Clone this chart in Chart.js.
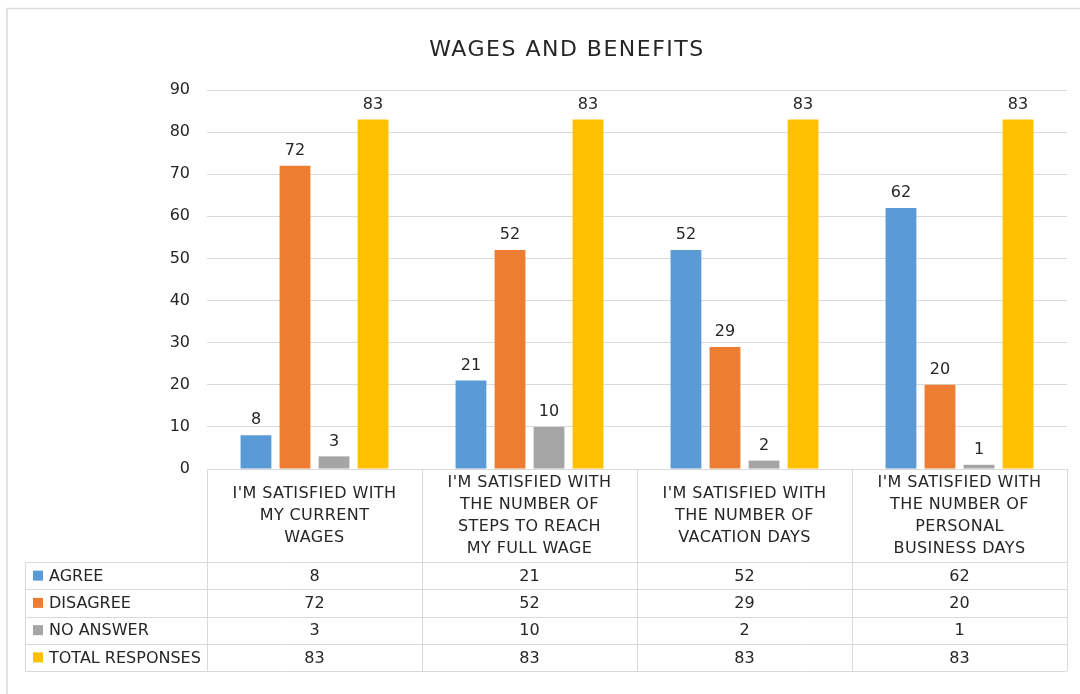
<!DOCTYPE html>
<html>
<head>
<meta charset="utf-8">
<script src="https://cdn.jsdelivr.net/npm/chart.js@4.4.1/dist/chart.umd.min.js"></script>
<style>
  html, body { margin: 0; padding: 0; background: #fff; }
  canvas { display: block; }
</style>
</head>
<body>
<canvas id="grafica" width="1080" height="694"></canvas>
<script>
const titulo = 'WAGES AND BENEFITS';
const categorias = [
  ["I'M SATISFIED WITH", 'MY CURRENT', 'WAGES'],
  ["I'M SATISFIED WITH", 'THE NUMBER OF', 'STEPS TO REACH', 'MY FULL WAGE'],
  ["I'M SATISFIED WITH", 'THE NUMBER OF', 'VACATION DAYS'],
  ["I'M SATISFIED WITH", 'THE NUMBER OF', 'PERSONAL', 'BUSINESS DAYS'],
];
const nombresSeries = ['AGREE', 'DISAGREE', 'NO ANSWER', 'TOTAL RESPONSES'];
const agree = [8, 21, 52, 62];
const disagree = [72, 52, 29, 20];
const noAnswer = [3, 10, 2, 1];
const totalResponses = [83, 83, 83, 83];
const colores = ['#5B9BD5', '#ED7D31', '#A5A5A5', '#FFC000'];
const ejeMin = 0;
const ejeMax = 90;
const ejePaso = 10;

const fuente = "'DejaVu Sans', 'Open Sans', sans-serif";
const gris = '#D9D9D9';
const texto = '#262626';

// tabla de datos al estilo Excel, debajo del area del grafico
const tablaDatos = {
  id: 'tablaDatos',
  afterDatasetsDraw(chart) {
    const ctx = chart.ctx;
    ctx.save();
    ctx.fillStyle = texto;
    ctx.font = '16px ' + fuente;
    ctx.textAlign = 'center';
    ctx.textBaseline = 'bottom';
    chart.data.datasets.forEach((ds, i) => {
      const meta = chart.getDatasetMeta(i);
      meta.data.forEach((bar, j) => {
        ctx.fillText(String(ds.data[j]), bar.x, bar.y - 7);
      });
    });
    ctx.restore();
  },
  afterDraw(chart) {
    const ctx = chart.ctx;
    const area = chart.chartArea;
    const xScale = chart.scales.x;
    const n = chart.data.labels.length;
    const anchoCol = (area.right - area.left) / n;
    const altoCabecera = 93;
    const altoFila = 27.25;
    const izqLeyenda = 25;
    const yCab = area.bottom;
    const yFilas = yCab + altoCabecera;
    const nFilas = chart.data.datasets.length;
    const yFin = yFilas + altoFila * nFilas;

    ctx.save();
    // marco exterior
    ctx.strokeStyle = gris;
    ctx.lineWidth = 1.5;
    ctx.strokeRect(7, 8.5, 1200, 800);

    // titulo
    ctx.fillStyle = texto;
    ctx.font = '22px ' + fuente;
    ctx.letterSpacing = '1.5px';
    ctx.textAlign = 'center';
    ctx.textBaseline = 'middle';
    ctx.fillText(titulo, 567, 50);
    ctx.letterSpacing = '0px';

    // lineas de la tabla
    ctx.strokeStyle = gris;
    ctx.lineWidth = 1;
    ctx.beginPath();
    ctx.moveTo(area.left, yCab + 0.5);
    ctx.lineTo(area.right, yCab + 0.5);
    for (let r = 0; r <= nFilas; r++) {
      const y = Math.round(yFilas + altoFila * r) + 0.5;
      ctx.moveTo(izqLeyenda, y);
      ctx.lineTo(area.right, y);
    }
    ctx.moveTo(izqLeyenda + 0.5, yFilas);
    ctx.lineTo(izqLeyenda + 0.5, yFin);
    for (let c = 0; c <= n; c++) {
      const x = Math.round(area.left + anchoCol * c) + 0.5;
      ctx.moveTo(x, yCab);
      ctx.lineTo(x, yFin);
    }
    ctx.stroke();

    // cabeceras de categoria
    ctx.fillStyle = texto;
    ctx.font = '16px ' + fuente;
    ctx.letterSpacing = '0.4px';
    ctx.textAlign = 'center';
    ctx.textBaseline = 'middle';
    const altoLinea = 22;
    chart.data.labels.forEach((lineas, j) => {
      const cx = xScale.getPixelForValue(j);
      const cy = yCab + altoCabecera / 2;
      const y0 = cy - (lineas.length - 1) * altoLinea / 2;
      lineas.forEach((l, k) => ctx.fillText(l, cx, y0 + k * altoLinea));
    });
    ctx.letterSpacing = '0px';

    // filas: leyenda + valores
    chart.data.datasets.forEach((ds, i) => {
      const cy = yFilas + altoFila * (i + 0.5);
      ctx.fillStyle = ds.backgroundColor;
      ctx.fillRect(33, cy - 5, 10, 10);
      ctx.fillStyle = texto;
      ctx.textAlign = 'left';
      ctx.fillText(ds.label, 49, cy + 1);
      ctx.textAlign = 'center';
      ds.data.forEach((v, j) => {
        ctx.fillText(String(v), xScale.getPixelForValue(j), cy + 1);
      });
    });
    ctx.restore();
  },
};

const valores = [agree, disagree, noAnswer, totalResponses];

new Chart(document.getElementById('grafica'), {
  type: 'bar',
  data: {
    labels: categorias,
    datasets: nombresSeries.map((nombre, i) => ({
      label: nombre,
      data: valores[i],
      backgroundColor: colores[i],
      categoryPercentage: 0.726,
      barPercentage: 0.79,
    })),
  },
  options: {
    responsive: false,
    animation: false,
    layout: { padding: { top: 90, right: 13, bottom: 225, left: 0 } },
    plugins: {
      legend: { display: false },
      title: { display: false },
      tooltip: { enabled: false },
    },
    scales: {
      x: { display: false },
      y: {
        min: ejeMin,
        max: ejeMax,
        ticks: {
          stepSize: ejePaso,
          color: texto,
          font: { family: fuente, size: 16 },
          padding: 17,
        },
        grid: { color: gris, drawTicks: false },
        border: { display: false },
        afterFit(scale) { scale.width = 207; },
      },
    },
  },
  plugins: [tablaDatos],
});
</script>
</body>
</html>
